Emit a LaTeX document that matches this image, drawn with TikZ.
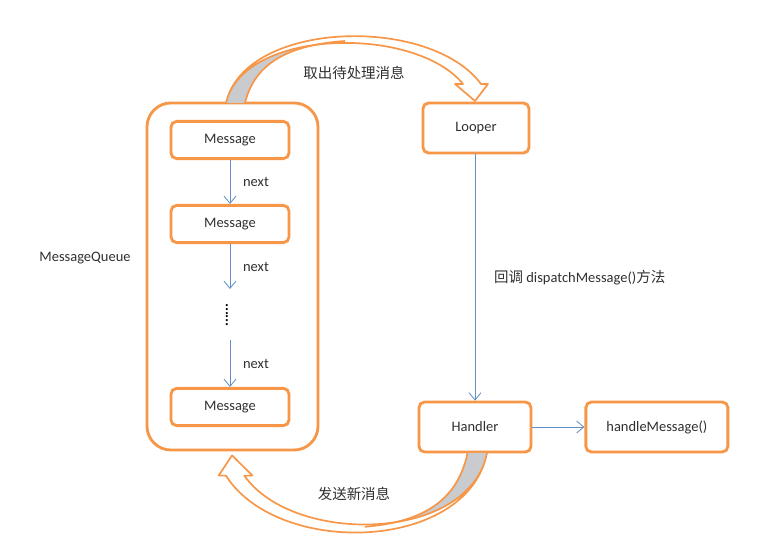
\documentclass[tikz,border=0pt]{standalone}
\usepackage{fontspec}
\setmainfont{Carlito}
\newfontfamily\cjk{Noto Sans CJK SC}
\usepackage{tikz}
\usetikzlibrary{arrows.meta, positioning}

\definecolor{boxorange}{HTML}{F79646}
\definecolor{linkblue}{HTML}{6490C8}
\definecolor{ribbon}{HTML}{C9CBCE}
\definecolor{ink}{HTML}{303030}

\begin{document}
\begin{tikzpicture}[
    x=0.025cm, y=-0.025cm,
    font=\fontsize{10.3}{12}\selectfont,
    text=ink,
    box/.style={
        rectangle,
        rounded corners=4pt,
        minimum width=2.95cm,
        minimum height=0.93cm,
        align=center,
        draw=boxorange,
        fill=white,
        line width=2pt
    },
    arrow/.style={
        -{Straight Barb[length=1.8mm, width=3mm]},
        draw=linkblue,
        line width=0.6pt
    },
    band/.style={
        draw=boxorange,
        line width=1.2pt,
        line join=round
    }
]
\useasboundingbox (0,0) rectangle (765,543);

% Queue with its messages
\node[box, rounded corners=0.6cm, minimum width=4.275cm, minimum height=8.675cm]
    (queue) at (232.5,276.5) {};
\node (queuelabel) at (85,258) {MessageQueue};

\node[box] (msg1) at (230,140) {Message};
\node[box] (msg2) at (230,224) {Message};
\node[box] (msg3) at (230,407) {Message};

\coordinate (gap1) at (230,289);
\node[rotate=90, font=\fontsize{10.3}{12}\selectfont\bfseries, text=black]
    (dots) at (227,315) {......};
\coordinate (gap2) at (230,340);

% Right column
\node[box, minimum width=2.65cm, minimum height=1.25cm] (looper)  at (476,128) {Looper};
\node[box, minimum width=2.8cm,  minimum height=1.25cm] (handler) at (475,427) {Handler};
\node[box, minimum width=3.55cm, minimum height=1.25cm, right=1.3cm of handler]
    (handle) {handleMessage()};

% Arrows
\draw[arrow] (msg1) -- node[right=0.2cm] {next} (msg2);
\draw[arrow] (msg2) -- node[right=0.2cm] {next} (gap1);
\draw[arrow] (gap2) -- node[right=0.2cm] {next} (msg3);

\draw[arrow] (looper.south -| handler.north) -- node[right=0.35cm]
    {{\cjk 回调} dispatchMessage(){\cjk 方法}} (handler);
\draw[arrow] (handler) -- (handle);

% Upper band: queue -> looper
\begin{scope}
    \clip (226,103) .. controls (245,20) and (430,15) .. (481,84) -- (481,103) -- cycle;
    \fill[ribbon] (200,103) -- (200,0) -- (345,0) -- (345,41)
        .. controls (290,45) and (255,62) .. (245,103) -- cycle;
\end{scope}
\draw[band, fill=white] (226,103) .. controls (245,20) and (430,15) .. (481,84)
    -- (488,84) -- (475,101) -- (455,84) -- (463,84)
    .. controls (415,25) and (243,28) .. (226,103) -- cycle;
\draw[band] (345,41) .. controls (290,45) and (255,62) .. (245,103);
\node[font=\cjk\fontsize{10.3}{12}\selectfont] (takelabel) at (354,73) {取出待处理消息};

% Lower band: handler -> queue
\begin{scope}
    \clip (487,453) .. controls (467.5,551.8) and (278.1,557.7) .. (225.9,475.6)
        -- (225.9,453) -- cycle;
    \fill[ribbon] (514.2,453) -- (514.2,575.6) -- (365,575.6) -- (365,526.8)
        .. controls (421.5,522) and (457.3,501.8) .. (467.5,453) -- cycle;
\end{scope}
\draw[band, fill=white] (487,453) .. controls (467.5,551.8) and (278.1,557.7) .. (225.9,475.6)
    -- (218.7,475.6) -- (232,455.4) -- (252.5,475.6) -- (244.3,475.6)
    .. controls (293.5,545.8) and (469.6,542.3) .. (487,453) -- cycle;
\draw[band] (365,526.8) .. controls (421.5,522) and (457.3,501.8) .. (467.5,453);
\node[font=\cjk\fontsize{10.3}{12}\selectfont] (sendlabel) at (354,494) {发送新消息};

\end{tikzpicture}
\end{document}
